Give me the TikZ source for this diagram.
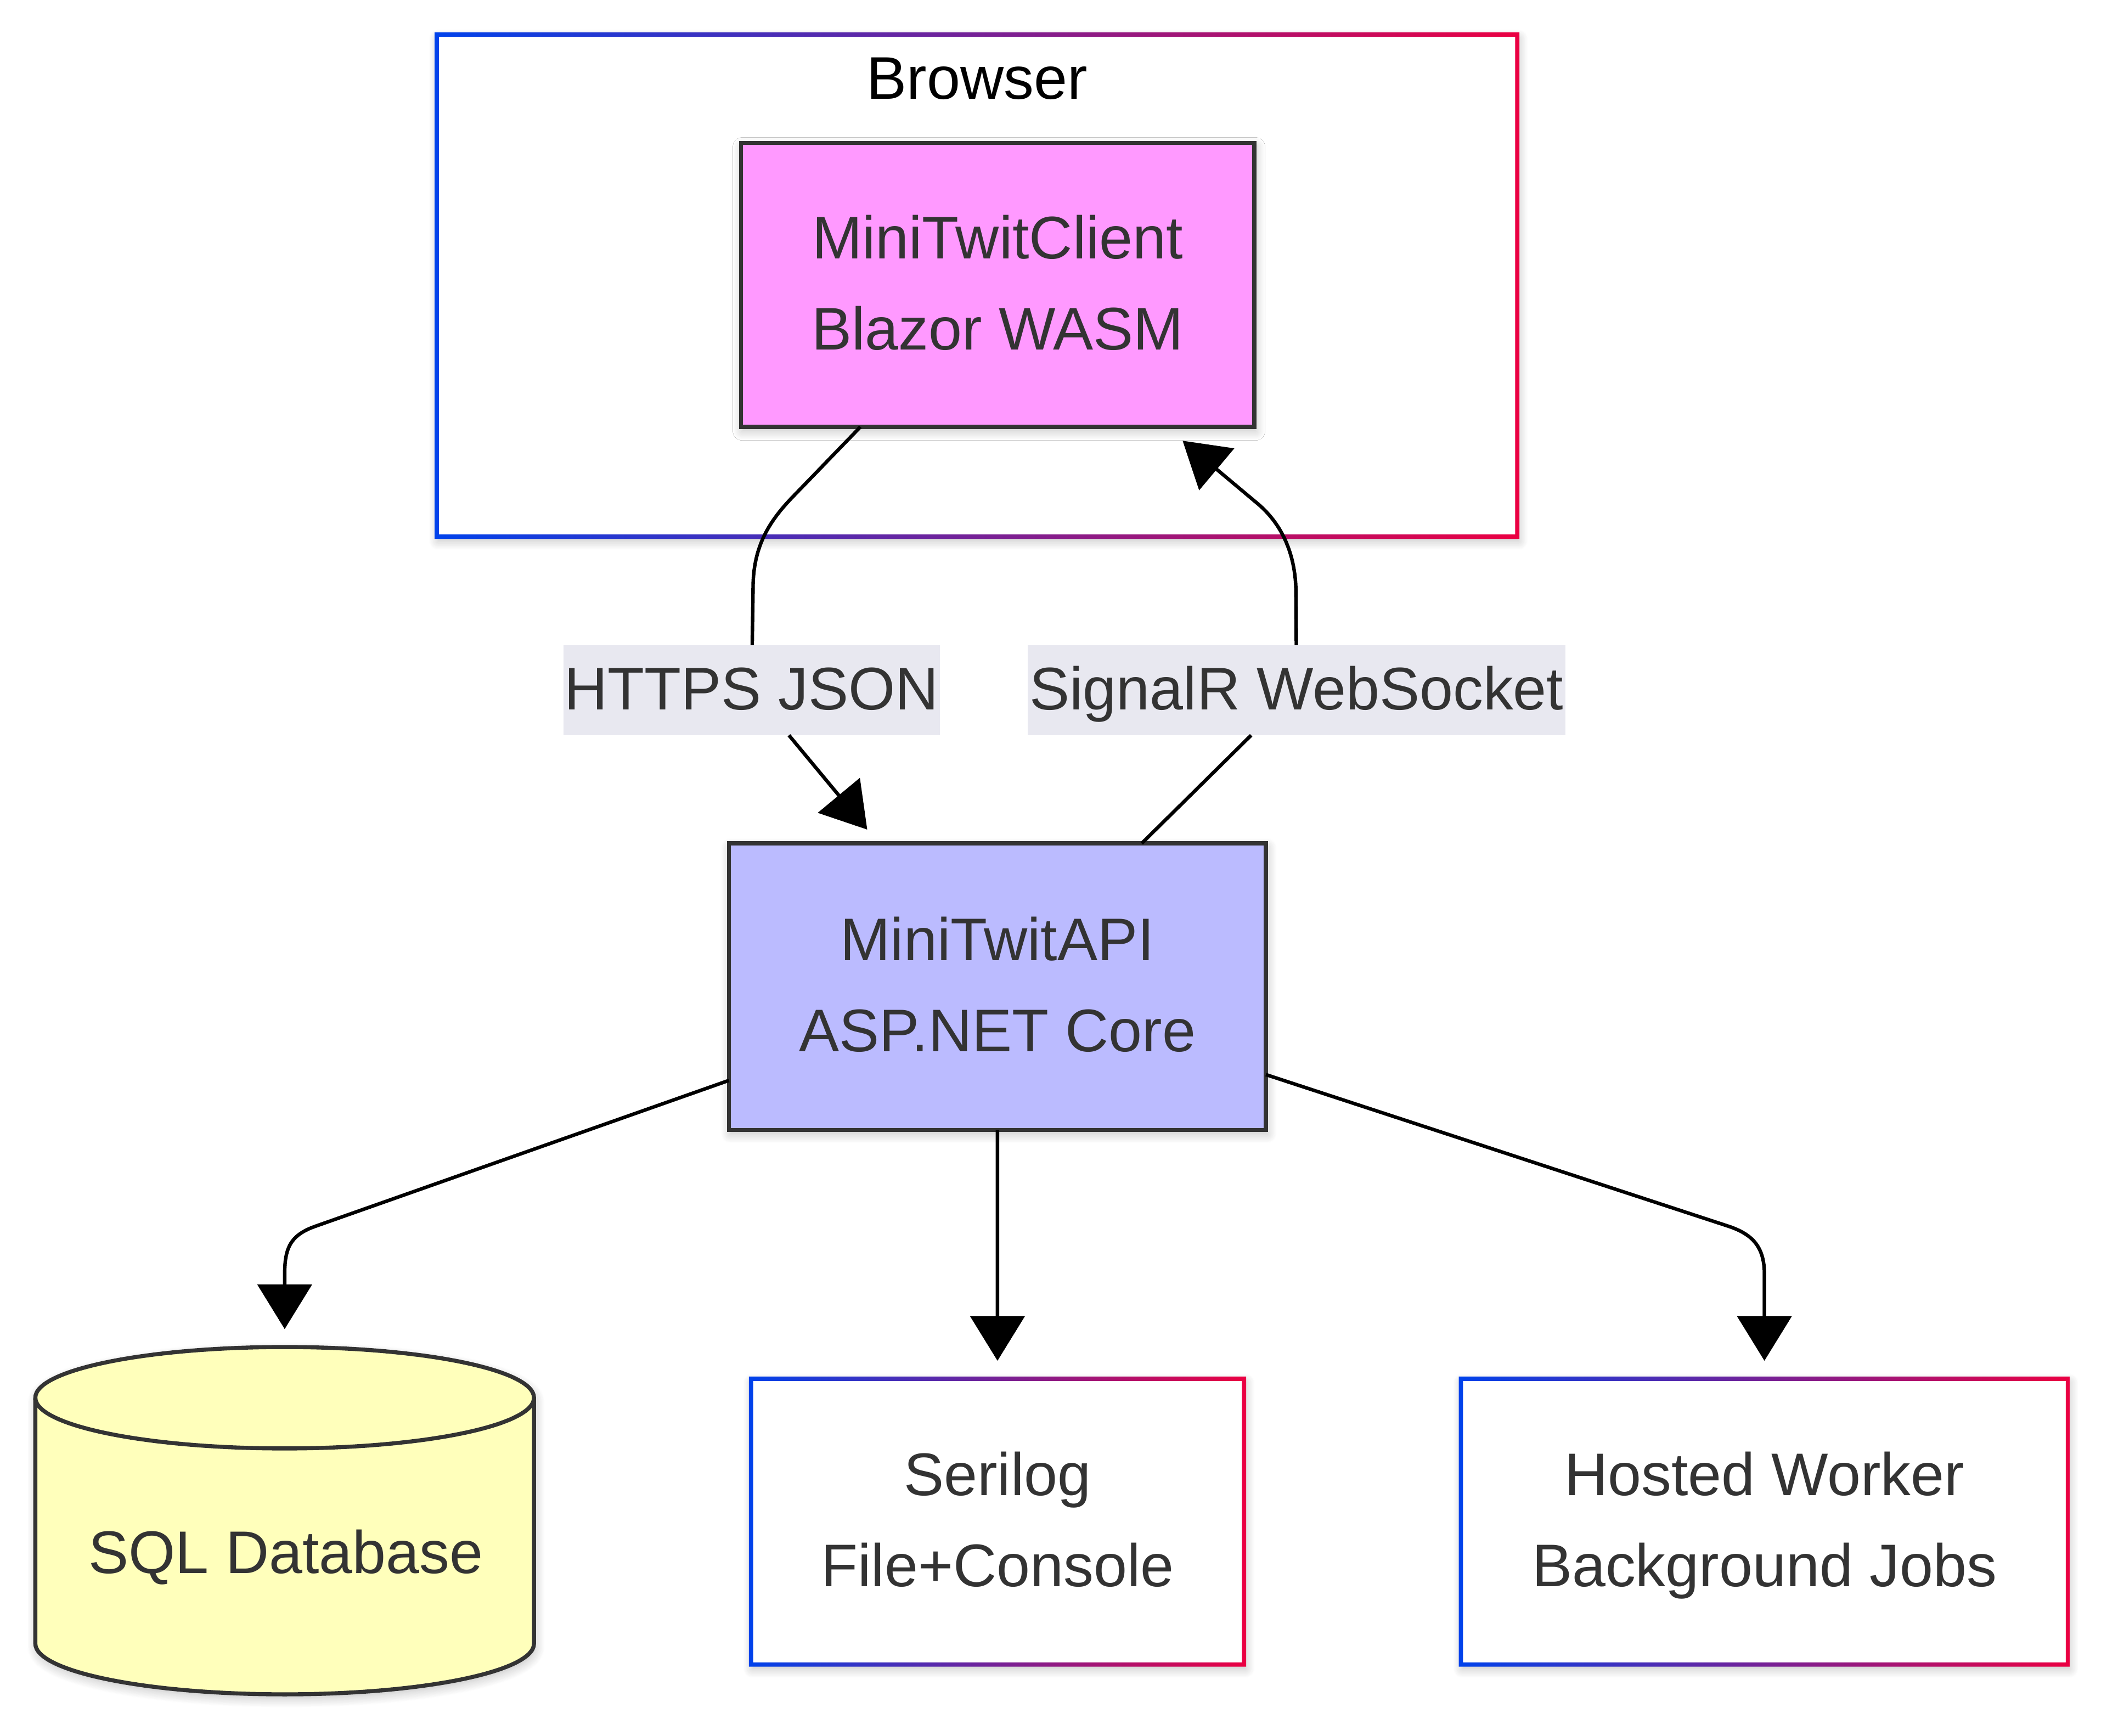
\documentclass[tikz,border=0pt]{standalone}
\usepackage{fontspec}
\setmainfont{Liberation Sans}
\usetikzlibrary{arrows.meta,shadows.blur}
\definecolor{gblue}{HTML}{0042EB}
\definecolor{gred}{HTML}{EB0042}
\definecolor{txtc}{HTML}{333333}
\definecolor{clientfill}{HTML}{FF99FF}
\definecolor{apifill}{HTML}{BBBBFF}
\definecolor{dbfill}{HTML}{FFFFBB}
\definecolor{labfill}{HTML}{E8E8F0}
\newcommand{\mygradring}[1]{%
  \shade[left color=gblue, right color=gred, even odd rule]
    ([xshift=-1.6pt,yshift=1.6pt]#1.north west) rectangle ([xshift=1.6pt,yshift=-1.6pt]#1.south east)
    ([xshift=1.6pt,yshift=-1.6pt]#1.north west) rectangle ([xshift=-1.6pt,yshift=1.6pt]#1.south east);}
\begin{document}
\begin{tikzpicture}[x=1pt,y=-1pt,
  every node/.style={outer sep=0pt, inner sep=0pt},
  txt/.style={font=\fontsize{44.6}{67.5}\selectfont, text=txtc, align=center},
  softshadow/.style={blur shadow={shadow xshift=1pt, shadow yshift=-3pt, shadow blur radius=7pt, shadow opacity=25, shadow blur steps=12}},
  mbox/.style={txt, draw=txtc, line width=3pt, softshadow, text depth=3.4pt},
  gbox/.style={txt, fill=white, softshadow, text depth=3.4pt},
  elabel/.style={txt, fill=labfill, text height=31.9pt, text depth=2.7pt},
  conn/.style={draw=black, line width=2.6pt},
  arr/.style={conn, -{Triangle[length=33pt,width=40pt]}, shorten >=13.3pt},
]
\useasboundingbox (0,0) rectangle (1562.1,1286.7);

% cluster
\node[gbox, minimum width=801.1pt, minimum height=372.2pt] (browser) at (724.35,211.8) {};
\mygradring{browser}
\node[txt, text=black, anchor=base] (btitle) at (724.45,73.6) {Browser};

% nodes
\node[mbox, fill=clientfill, minimum width=380.6pt, minimum height=210.6pt] (client) at (739.6,211.2) {MiniTwitClient\\Blazor WASM};
\node[mbox, fill=apifill, minimum width=398.1pt, minimum height=212.4pt] (api) at (739.45,731.5) {MiniTwitAPI\\ASP.NET Core};
\node[elabel, minimum width=279.2pt, minimum height=66.8pt] (lab1) at (557.2,511.75) {HTTPS JSON};
\node[elabel, minimum width=398.5pt, minimum height=66.8pt] (lab2) at (961.25,511.75) {SignalR WebSocket};

\node[gbox, minimum width=365.5pt, minimum height=211.9pt] (serilog) at (739.55,1128.15) {Serilog\\File+Console};
\mygradring{serilog}
\node[gbox, minimum width=450pt, minimum height=211.9pt] (worker) at (1308.1,1128.15) {Hosted Worker\\Background Jobs};
\mygradring{worker}

% database cylinder
\path[fill=dbfill, draw=txtc, line width=3pt, softshadow]
  (26.2,1036.3) -- (26.2,1218.6) arc[start angle=180, end angle=0, x radius=184.85, y radius=37.6]
  -- (395.9,1036.3) arc[start angle=0, end angle=-180, x radius=184.85, y radius=37.6] -- cycle;
\draw[draw=txtc, line width=3pt] (26.2,1036.3) arc[start angle=180, end angle=0, x radius=184.85, y radius=37.6];
\node[minimum width=369.7pt, minimum height=257.5pt] (db) at (211.05,1127.45) {};
\node[txt, anchor=base] (dbtext) at (211.9,1166.3) {SQL Database};

% waypoints
\coordinate (a1) at (587.8,368.3);
\coordinate (a2) at (558.3,436);
\coordinate (s1) at (960.8,440);
\coordinate (s2) at (932.5,373.5);
\coordinate (d1) at (234.3,909);
\coordinate (d2) at (211.05,945);
\coordinate (w1) at (1281,909);
\coordinate (w2) at (1308.1,945);

% connectors
\draw[arr] (client) -- (a1) .. controls (570.4,386.3) and (558.3,405) .. (a2) -- (lab1) -- (api);
\draw[arr, shorten >=16pt] (api) -- (lab2) -- (s1) .. controls (960.8,413) and (951.6,389.6) .. (s2) -- (client);
\draw[arr] (api) -- (d1) .. controls (215.3,915.6) and (211.05,925) .. (d2) -- (db);
\draw[arr] (api) -- (serilog);
\draw[arr] (api) -- (w1) .. controls (1300,915.2) and (1308.1,925) .. (w2) -- (worker);
\end{tikzpicture}
\end{document}
